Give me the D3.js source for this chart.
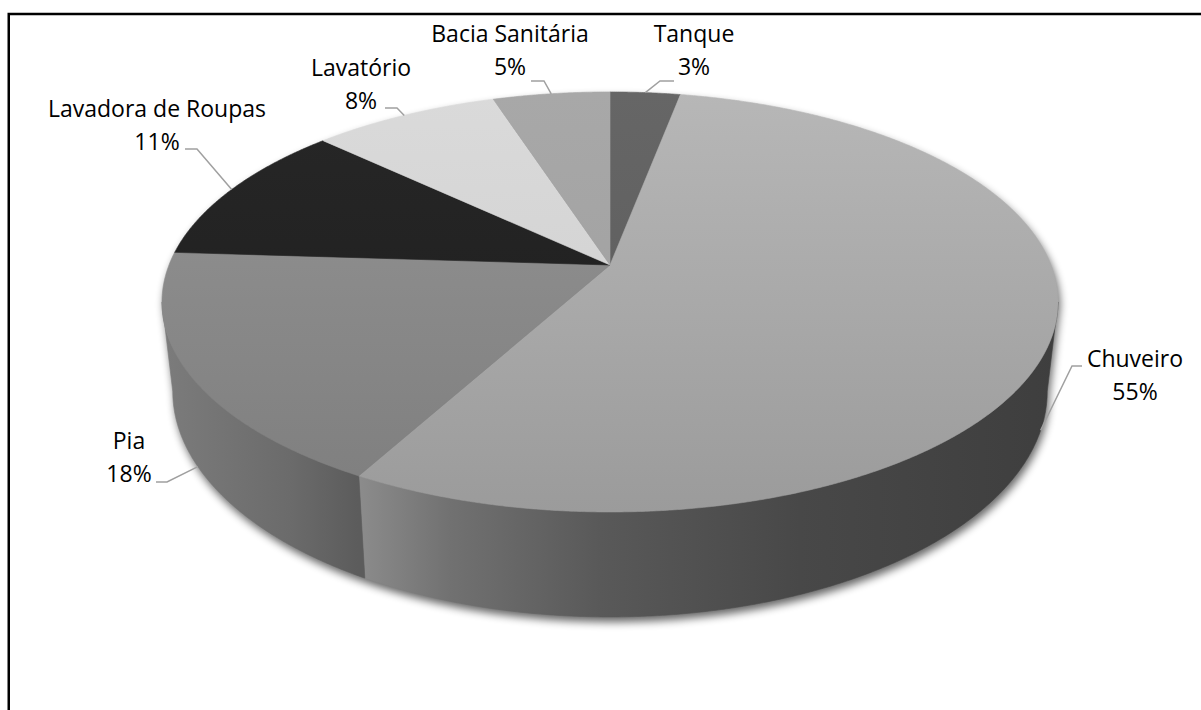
<!DOCTYPE html>
<html lang="pt">
<head>
<meta charset="utf-8">
<script src="https://cdn.jsdelivr.net/npm/d3@7"></script>
<style>
  html, body { margin: 0; padding: 0; background: #fff; }
  svg { display: block; }
  text { font-family: "Open Sans", "Noto Sans", sans-serif; }
</style>
</head>
<body>
<svg id="chart" width="1201" height="710"></svg>
<script>
// Consumo de água por ponto de uso (%)
const categories = ["Tanque", "Chuveiro", "Pia", "Lavadora de Roupas", "Lavatório", "Bacia Sanitária"];
const values = [3, 55, 18, 11, 8, 5];

// Fill colours (top face light -> dark)
const topLight = ["#666666", "#b7b7b7", "#949494", "#272727", "#dadada", "#a8a8a8"];
const topDark  = ["#5a5a5a", "#9b9b9b", "#7e7e7e", "#1c1c1c", "#cdcdcd", "#9d9d9d"];
// Side-wall colour stops (x in px, colour)
const wallStops = [
  [[0, "#666"], [1200, "#555"]],
  [[358, "#8c8c8c"], [450, "#717171"], [600, "#595959"], [800, "#484848"], [1060, "#3e3e3e"]],
  [[160, "#7c7c7c"], [290, "#6b6b6b"], [358, "#5c5c5c"]],
  [[0, "#222"], [1200, "#222"]],
  [[0, "#ccc"], [1200, "#ccc"]],
  [[0, "#999"], [1200, "#999"]]
];

// Label layout: text centre x, first baseline y, leader start (near text) and elbow
const labelLayout = [
  { x: 694,  y: 42,  sx: 674,  sy: 81,  ex: 660 },
  { x: 1135, y: 367, sx: 1082, sy: 366, ex: 1072 },
  { x: 129,  y: 449, sx: 156,  sy: 482, ex: 167 },
  { x: 157,  y: 117, sx: 185,  sy: 149, ex: 197 },
  { x: 361,  y: 76,  sx: 385,  sy: 108, ex: 397 },
  { x: 510,  y: 42,  sx: 531,  sy: 81,  ex: 544 }
];

const svg = d3.select("#chart");
const defs = svg.append("defs");

// Frame
svg.append("rect").attr("x", 8.75).attr("y", 14).attr("width", 1400).attr("height", 900)
  .attr("fill", "none").attr("stroke", "#000").attr("stroke-width", 2.5);

// Perspective disc geometry
const cx = 610, cy = 265;      // projected disc centre
const k = 0.176;               // perspective strength
const depth = 86.5;            // wall height
const shrink = 0.976;          // lower rim is slightly smaller (farther away)
const xs = d3.scaleLinear().domain([-1, 1]).range([cx - 441, cx + 441]);
const ys = d3.scaleLinear().domain([-1, 1]).range([cy - 203.5, cy + 203.5]);

function topPt(a) {
  const u = Math.sin(a), v = -Math.cos(a), s = 1 / (1 - k * v);
  return [xs(u * s), ys(v * s)];
}
function botPt(a) {
  const p = topPt(a), v = -Math.cos(a);
  return [cx + (p[0] - cx) * shrink, p[1] + depth / (1 - k * v)];
}
function arcPts(a0, a1, fn) {
  const n = Math.max(2, Math.ceil(Math.abs(a1 - a0) / 0.005));
  return d3.range(n + 1).map(i => fn(a0 + (a1 - a0) * i / n));
}

const arcs = d3.pie().sort(null).value(d => d).startAngle(0).endAngle(2 * Math.PI)(values);
const line = d3.line();

const aR = Math.PI / 2 + Math.asin(k);
const aL = 3 * Math.PI / 2 - Math.asin(k);

// Gradients
arcs.forEach((d, i) => {
  const g = defs.append("linearGradient").attr("id", "top" + i)
    .attr("gradientUnits", "userSpaceOnUse")
    .attr("x1", 0).attr("y1", topPt(Math.PI)[1] - 420).attr("x2", 0).attr("y2", topPt(Math.PI)[1]);
  g.append("stop").attr("offset", 0).attr("stop-color", topLight[i]);
  g.append("stop").attr("offset", 1).attr("stop-color", topDark[i]);
  const w = defs.append("linearGradient").attr("id", "wall" + i)
    .attr("gradientUnits", "userSpaceOnUse")
    .attr("x1", 0).attr("y1", 0).attr("x2", 1201).attr("y2", 0);
  wallStops[i].forEach(s => w.append("stop").attr("offset", s[0] / 1201).attr("stop-color", s[1]));
});

// Soft shadow under the disc
const shadowF = defs.append("filter").attr("id", "shadow")
  .attr("x", "-10%").attr("y", "-10%").attr("width", "120%").attr("height", "130%");
shadowF.append("feGaussianBlur").attr("stdDeviation", 4.5);

const outline = arcPts(aL - 2 * Math.PI, aR, topPt).concat(arcPts(aR, aL, botPt));
svg.append("path")
  .attr("d", line(outline) + "Z")
  .attr("transform", "translate(2,5)")
  .attr("fill", "#000").attr("opacity", 0.6)
  .attr("filter", "url(#shadow)");

// Side walls (front half only)
arcs.forEach((d, i) => {
  const a0 = Math.max(d.startAngle, aR), a1 = Math.min(d.endAngle, aL);
  if (a1 <= a0) return;
  const pts = arcPts(a0, a1, topPt).concat(arcPts(a1, a0, botPt));
  svg.append("path").attr("d", line(pts) + "Z")
    .attr("fill", `url(#wall${i})`).attr("stroke", `url(#wall${i})`).attr("stroke-width", 0.6);
});

// Top faces
arcs.forEach((d, i) => {
  const pts = [[cx, cy]].concat(arcPts(d.startAngle, d.endAngle, topPt));
  svg.append("path").attr("d", line(pts) + "Z")
    .attr("fill", `url(#top${i})`).attr("stroke", `url(#top${i})`).attr("stroke-width", 0.6);
});

// Labels and leader lines
arcs.forEach((d, i) => {
  const mid = (d.startAngle + d.endAngle) / 2;
  const onWall = mid > aR && mid < aL;
  const anchor = onWall ? botPt(mid) : topPt(mid);
  const L = labelLayout[i];
  svg.append("path")
    .attr("d", line([[L.sx, L.sy], [L.ex, L.sy], anchor]))
    .attr("fill", "none").attr("stroke", "#a0a0a0").attr("stroke-width", 1.5);
  const t = svg.append("text").attr("text-anchor", "middle")
    .attr("font-size", 23).attr("fill", "#000");
  t.append("tspan").attr("x", L.x).attr("y", L.y).text(categories[i]);
  t.append("tspan").attr("x", L.x).attr("y", L.y + 32.5).text(d.data + "%");
});
</script>
</body>
</html>
